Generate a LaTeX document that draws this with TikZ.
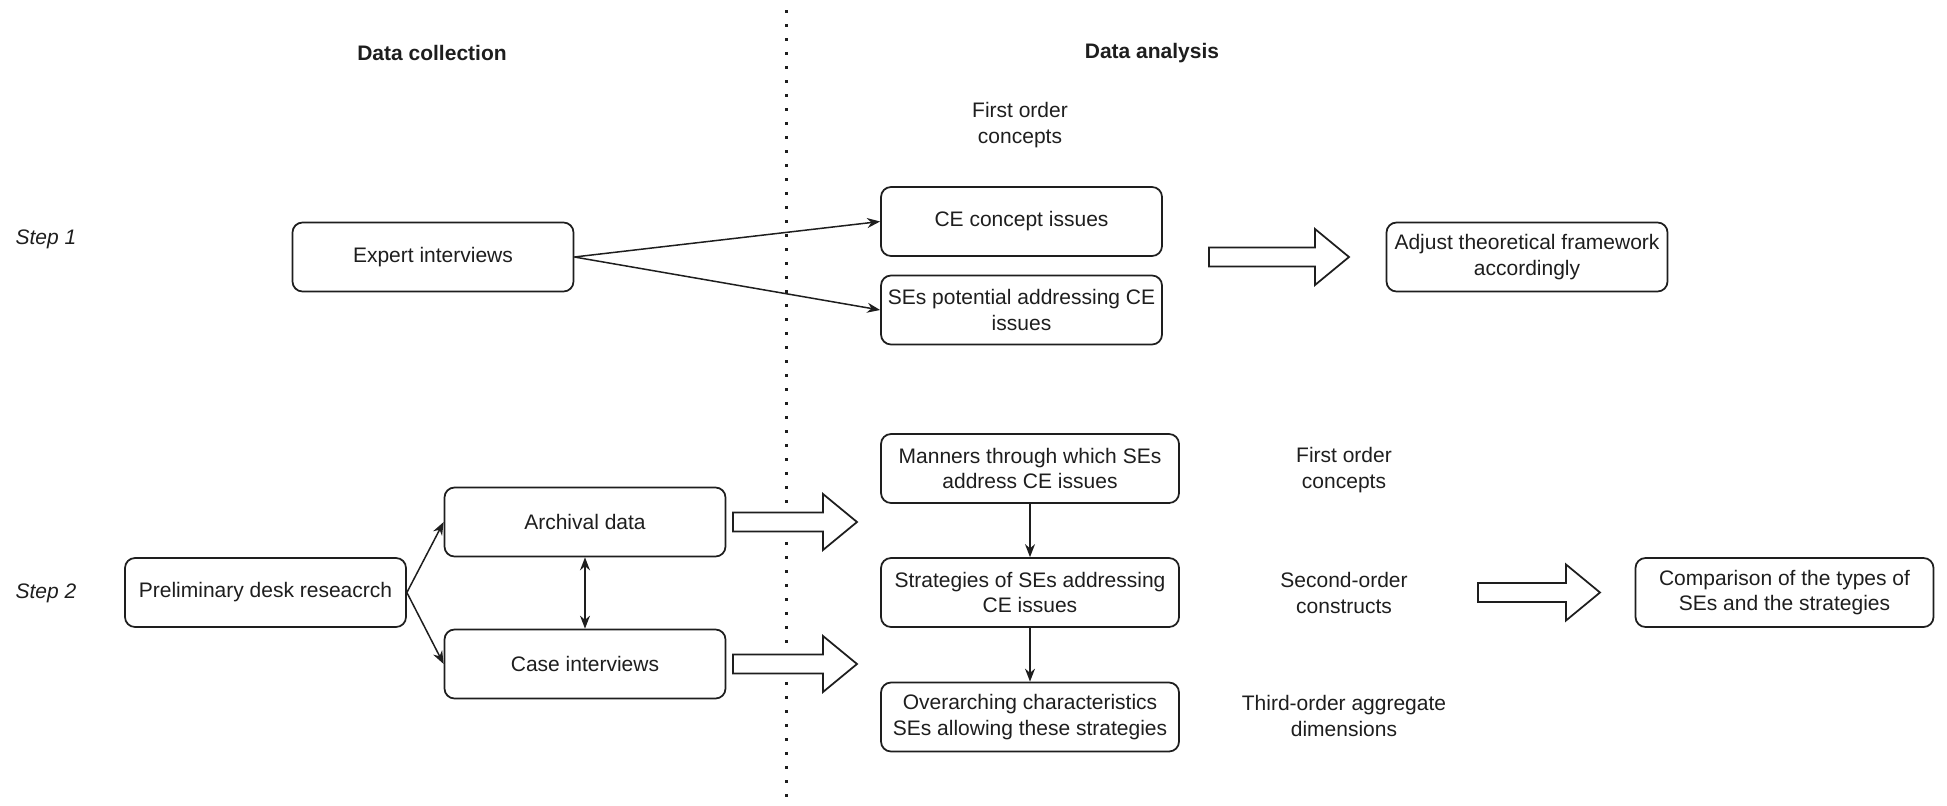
\documentclass[tikz,border=0pt]{standalone}
\usepackage{fontspec}
\setmainfont{Liberation Sans}
\usetikzlibrary{arrows.meta}
\definecolor{ink}{RGB}{30,30,30}
\newcommand\basefont{\fontsize{21}{25.2}\selectfont}
\tikzset{
  pics/hollowarrow/.style={code={
    \draw[draw=ink, line width=1.75pt, fill=white, line join=miter]
      (0,-9.5) -- ({#1-34},-9.5) -- ({#1-34},-28) -- (#1,0)
      -- ({#1-34},28) -- ({#1-34},9.5) -- (0,9.5) -- cycle;
  }}
}
\begin{document}
\begin{tikzpicture}[x=1pt, y=-1pt,
  every node/.style={font=\basefont, text=ink},
  box/.style={draw=ink, line width=1.75pt, rounded corners=10pt,
    minimum width=281pt, minimum height=69pt, align=center,
    inner sep=2pt, fill=white},
  widebox/.style={box, minimum width=298pt},
  note/.style={align=center},
  link/.style={draw=ink, line width=1.5pt, -{Stealth[length=13pt,width=10pt]}},
  dlink/.style={draw=ink, line width=1.5pt,
    {Stealth[length=13pt,width=10pt]}-{Stealth[length=13pt,width=10pt]}},
  dotline/.style={draw=ink, line width=3pt, dash pattern=on 3pt off 11pt}
]
\useasboundingbox (0,0) rectangle (1947,806);

% column divider
\draw[dotline] (786.5,10) -- (786.5,806);

% headings
\node[note, font=\basefont\bfseries] (hcol) at (432,53) {Data collection};
\node[note, font=\basefont\bfseries] (hana) at (1152,53) {Data analysis};
\node[anchor=west, font=\basefont\itshape] (s1) at (12,239) {Step 1};
\node[anchor=west, font=\basefont\itshape] (s2) at (12,593) {Step 2};

% step 1
\node[note] (fo1) at (1020,125) {First order\\concepts};
\node[box] (expert) at (433,257) {Expert interviews};
\node[box] (ce) at (1021.5,221.5) {CE concept issues};
\node[box] (ses) at (1021.5,310) {SEs potential addressing CE\\issues};
\node[box] (adjust) at (1527,257) {Adjust theoretical framework\\accordingly};
\draw[link] (expert.east) -- (ce.west);
\draw[link] (expert.east) -- (ses.west);
\pic at (1209,257) {hollowarrow=140};

% step 2
\node[box] (prelim) at (265.5,592.5) {Preliminary desk reseacrch};
\node[box] (archival) at (585,522) {Archival data};
\node[box] (case) at (585,664) {Case interviews};
\node[widebox] (manners) at (1030,468.5) {Manners through which SEs\\address CE issues};
\node[widebox] (strat) at (1030,592.5) {Strategies of SEs addressing\\CE issues};
\node[widebox] (over) at (1030,717) {Overarching characteristics\\SEs allowing these strategies};
\node[widebox] (comp) at (1784.5,592.5) {Comparison of the types of\\SEs and the strategies};
\node[note] (fo2) at (1344,470) {First order\\concepts};
\node[note] (so) at (1344,593) {Second-order\\constructs};
\node[note] (to) at (1344,716) {Third-order aggregate\\dimensions};

\draw[link] (prelim.east) -- (archival.west);
\draw[link] (prelim.east) -- (case.west);
\draw[dlink] (archival.south) -- (case.north);
\draw[link] (manners.south) -- (strat.north);
\draw[link] (strat.south) -- (over.north);
\pic at (733,522) {hollowarrow=124};
\pic at (733,664) {hollowarrow=124};
\pic at (1478,592.5) {hollowarrow=122};
\end{tikzpicture}
\end{document}
